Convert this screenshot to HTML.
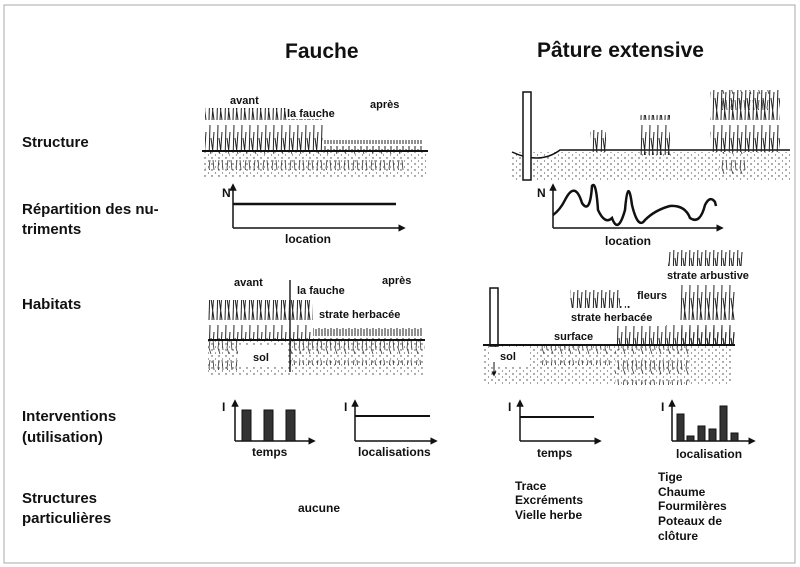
<!DOCTYPE html>
<html><head><meta charset="utf-8"><style>
html,body{margin:0;padding:0;background:#fff}
svg{display:block}
text{font-family:"Liberation Sans",sans-serif;font-weight:bold;fill:#111}
</style></head><body>
<svg width="800" height="567" viewBox="0 0 800 567" xmlns="http://www.w3.org/2000/svg">
<defs>
<marker id="a" markerWidth="5" markerHeight="5" refX="2.5" refY="2.5" orient="auto"><path d="M0,0 L5,2.5 L0,5 z" fill="#111"/></marker>
<pattern id="dots" width="7" height="6" patternUnits="userSpaceOnUse"><circle cx="2" cy="2" r="0.7" fill="#333"/><circle cx="5.5" cy="5" r="0.6" fill="#555"/></pattern>
<pattern id="grass" width="8" height="40" patternUnits="userSpaceOnUse"><path d="M1,40 L2,5 M4,40 L6,12 M6,40 L3,18" stroke="#222" stroke-width="1" fill="none"/></pattern>
<pattern id="short" width="6" height="12" patternUnits="userSpaceOnUse"><path d="M1,12 L1,2 M4,12 L4,5" stroke="#222" stroke-width="1" fill="none"/></pattern>
<pattern id="roots" width="9" height="20" patternUnits="userSpaceOnUse"><path d="M3,0 L2,8 L4,14 M6,0 L7,10" stroke="#333" stroke-width="0.8" fill="none"/></pattern>
</defs>
<rect x="4" y="5" width="791" height="558" fill="none" stroke="#aaa" stroke-width="1"/>
<text x="285" y="58" font-size="21">Fauche</text>
<text x="537" y="57" font-size="21">Pâture extensive</text>
<g font-size="15">
<text x="22" y="147">Structure</text>
<text x="22" y="214">Répartition des nu-</text>
<text x="22" y="234">triments</text>
<text x="22" y="309">Habitats</text>
<text x="22" y="421">Interventions</text>
<text x="22" y="442">(utilisation)</text>
<text x="22" y="503">Structures</text>
<text x="22" y="523">particulières</text>
</g>
<!-- structure fauche -->
<rect x="203" y="152" width="225" height="25" fill="url(#dots)"/>
<rect x="205" y="152" width="200" height="18" fill="url(#roots)"/>
<rect x="205" y="108" width="118" height="44" fill="url(#grass)"/>
<rect x="323" y="140" width="100" height="12" fill="url(#short)"/>
<line x1="202" y1="151" x2="428" y2="151" stroke="#111" stroke-width="2"/>
<rect x="228" y="92" width="38" height="14" fill="#fff"/>
<rect x="286" y="105" width="58" height="14" fill="#fff"/>
<g font-size="11"><text x="230" y="104">avant</text><text x="287" y="117">la fauche</text><text x="370" y="108">après</text></g>
<!-- structure pature -->
<rect x="512" y="152" width="278" height="28" fill="url(#dots)"/>
<path d="M512,152 Q540,165 560,150 L790,150" stroke="#111" stroke-width="1.5" fill="none"/>
<rect x="523" y="92" width="8" height="88" fill="#fff" stroke="#111" stroke-width="1.5"/>
<rect x="710" y="90" width="70" height="62" fill="url(#grass)"/>
<rect x="720" y="90" width="50" height="20" fill="url(#roots)"/>
<rect x="640" y="115" width="30" height="40" fill="url(#grass)"/>
<rect x="590" y="130" width="16" height="22" fill="url(#grass)"/>
<rect x="718" y="152" width="30" height="28" fill="url(#roots)"/>
<!-- N charts -->
<g stroke="#111" stroke-width="1.5" fill="none">
<line x1="233" y1="228" x2="233" y2="187" marker-end="url(#a)"/>
<line x1="233" y1="228" x2="402" y2="228" marker-end="url(#a)"/>
<line x1="233" y1="204" x2="396" y2="204" stroke-width="2.5"/>
<line x1="553" y1="228" x2="553" y2="187" marker-end="url(#a)"/>
<line x1="553" y1="228" x2="720" y2="228" marker-end="url(#a)"/>
<path d="M553,215 Q560,210 565,200 Q575,180 582,203 Q590,215 592,186 Q596,180 598,210 Q605,225 612,218 Q618,235 625,210 Q628,175 632,205 Q638,230 645,220 Q655,210 670,206 Q685,205 690,218 Q700,225 705,205 Q710,195 715,202 L716,206" stroke-width="2.5"/>
</g>
<text x="222" y="197" font-size="12">N</text>
<text x="537" y="197" font-size="12">N</text>
<text x="285" y="243" font-size="12">location</text>
<text x="605" y="245" font-size="12">location</text>
<!-- habitats fauche -->
<rect x="208" y="340" width="217" height="35" fill="url(#dots)"/>
<rect x="208" y="340" width="30" height="30" fill="url(#roots)"/>
<rect x="290" y="340" width="135" height="25" fill="url(#roots)"/>
<rect x="208" y="300" width="105" height="40" fill="url(#grass)"/>
<rect x="313" y="328" width="110" height="12" fill="url(#short)"/>
<line x1="208" y1="340" x2="425" y2="340" stroke="#111" stroke-width="2"/>
<line x1="290" y1="280" x2="290" y2="372" stroke="#222" stroke-width="1.5"/>
<rect x="296" y="282" width="58" height="14" fill="#fff"/>
<rect x="238" y="345" width="48" height="22" fill="#fff"/>
<g font-size="11"><text x="234" y="286">avant</text><text x="297" y="294">la fauche</text><text x="382" y="284">après</text><text x="319" y="318">strate herbacée</text><text x="253" y="361">sol</text></g>
<!-- habitats pature -->
<rect x="483" y="345" width="250" height="40" fill="url(#dots)"/>
<rect x="540" y="345" width="70" height="20" fill="url(#roots)"/>
<rect x="615" y="345" width="75" height="40" fill="url(#roots)"/>
<rect x="490" y="288" width="8" height="58" fill="#fff" stroke="#111" stroke-width="1.5"/>
<rect x="570" y="290" width="60" height="30" fill="url(#grass)"/>
<rect x="615" y="325" width="120" height="20" fill="url(#grass)"/>
<rect x="680" y="280" width="55" height="65" fill="url(#grass)"/>
<rect x="668" y="250" width="75" height="20" fill="url(#grass)"/>
<line x1="483" y1="345" x2="735" y2="345" stroke="#111" stroke-width="2"/>
<rect x="535" y="330" width="80" height="14" fill="#fff"/>
<rect x="564" y="308" width="102" height="18" fill="#fff"/>
<rect x="620" y="282" width="50" height="24" fill="#fff"/>
<rect x="662" y="266" width="104" height="18" fill="#fff"/>
<rect x="490" y="347" width="40" height="20" fill="#fff"/>
<g font-size="11"><text x="667" y="279">strate arbustive</text><text x="637" y="299">fleurs</text><text x="571" y="321">strate herbacée</text><text x="554" y="340">surface</text><text x="500" y="360">sol</text></g>
<line x1="494" y1="362" x2="494" y2="374" stroke="#111" stroke-width="1" marker-end="url(#a)"/>
<!-- interventions -->
<g stroke="#111" stroke-width="1.5" fill="none">
<line x1="235" y1="441" x2="235" y2="403" marker-end="url(#a)"/>
<line x1="235" y1="441" x2="312" y2="441" marker-end="url(#a)"/>
<line x1="355" y1="441" x2="355" y2="403" marker-end="url(#a)"/>
<line x1="355" y1="441" x2="434" y2="441" marker-end="url(#a)"/>
<line x1="355" y1="416" x2="430" y2="416" stroke-width="2"/>
<line x1="520" y1="441" x2="520" y2="403" marker-end="url(#a)"/>
<line x1="520" y1="441" x2="598" y2="441" marker-end="url(#a)"/>
<line x1="520" y1="417" x2="594" y2="417" stroke-width="2"/>
<line x1="672" y1="441" x2="672" y2="403" marker-end="url(#a)"/>
<line x1="672" y1="441" x2="752" y2="441" marker-end="url(#a)"/>
</g>
<g fill="#333" stroke="#111">
<rect x="242" y="410" width="9" height="31"/><rect x="264" y="410" width="9" height="31"/><rect x="286" y="410" width="9" height="31"/>
<rect x="677" y="414" width="7" height="27"/><rect x="687" y="436" width="7" height="5"/><rect x="698" y="426" width="7" height="15"/><rect x="709" y="429" width="7" height="12"/><rect x="720" y="406" width="7" height="35"/><rect x="731" y="433" width="7" height="8"/>
</g>
<g font-size="12">
<text x="222" y="411">I</text><text x="344" y="411">I</text><text x="508" y="411">I</text><text x="661" y="411">I</text>
<text x="252" y="456">temps</text><text x="358" y="456">localisations</text><text x="537" y="457">temps</text><text x="676" y="458">localisation</text>
<text x="298" y="512">aucune</text>
<text x="515" y="490">Trace</text><text x="515" y="504">Excréments</text><text x="515" y="519">Vielle herbe</text>
<text x="658" y="481">Tige</text><text x="658" y="496">Chaume</text><text x="658" y="510">Fourmilères</text><text x="658" y="525">Poteaux de</text><text x="658" y="540">clôture</text>
</g>
</svg>
</body></html>
